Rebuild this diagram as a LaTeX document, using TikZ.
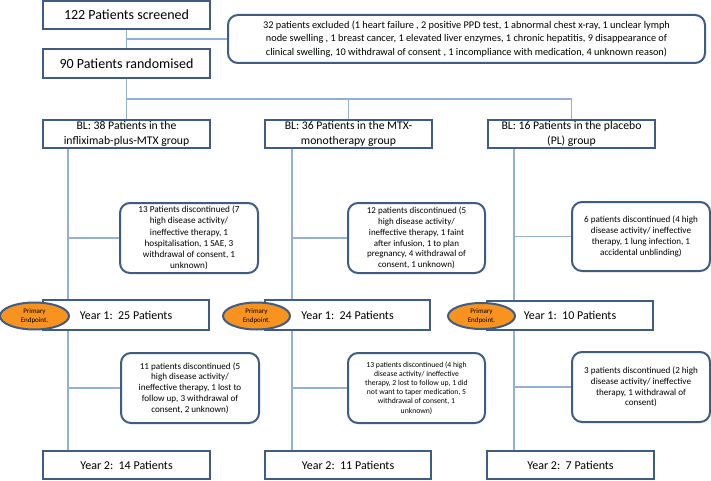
\documentclass[tikz,border=0pt]{standalone}
\usepackage{fontspec}
\setmainfont{Carlito}
\usetikzlibrary{shapes.geometric,backgrounds}
\definecolor{boxline}{HTML}{3E5C84}
\definecolor{conn}{HTML}{93B1D6}
\definecolor{endp}{HTML}{F7931E}
\tikzset{
  sqbox/.style={draw=boxline, line width=2.1pt, fill=white, rectangle, align=center, inner sep=1pt},
  rbox/.style={draw=boxline, line width=2pt, fill=white, rectangle, rounded corners=10pt, align=center, inner sep=1pt},
  conline/.style={draw=conn, line width=1.5pt},
  endpt/.style={draw=boxline, line width=2pt, fill=endp, ellipse, align=center, inner sep=0pt, font=\fontsize{7}{9}\selectfont},
}
\begin{document}
\begin{tikzpicture}[x=1pt,y=-1pt]
\useasboundingbox (0,0) rectangle (711,481);
% top
\node[sqbox, minimum width=167pt, minimum height=28pt, font=\fontsize{14}{16}\selectfont] (scr) at (126.5,15) {122 Patients screened};
\node[sqbox, minimum width=167pt, minimum height=29pt, font=\fontsize{14}{16}\selectfont] (rand) at (126.5,63.5) {90 Patients randomised};
\node[rbox, minimum width=477pt, minimum height=48pt, font=\fontsize{10.3}{13.3}\selectfont] (excl) at (466.5,39) {32 patients excluded (1 heart failure , 2 positive PPD test, 1 abnormal chest x-ray, 1 unclear lymph\\ node swelling , 1 breast cancer, 1 elevated liver enzymes, 1 chronic hepatitis, 9 disappearance of\\ clinical swelling, 10 withdrawal of consent , 1 incompliance with medication, 4 unknown reason)};
% baseline groups
\node[sqbox, minimum width=167pt, minimum height=28pt, font=\fontsize{11.7}{14.5}\selectfont] (bla) at (126.5,134) {BL: 38 Patients in the\\ infliximab-plus-MTX group};
\node[sqbox, minimum width=167pt, minimum height=28pt, font=\fontsize{11.7}{14.5}\selectfont] (blb) at (348.5,134) {BL: 36 Patients in the MTX-\\ monotherapy group};
\node[sqbox, minimum width=167pt, minimum height=28pt, font=\fontsize{11.7}{14.5}\selectfont] (blc) at (571.5,134) {BL: 16 Patients in the placebo\\ (PL) group};
% discontinued year 1
\node[rbox, minimum width=138pt, minimum height=70pt, font=\fontsize{9.2}{11.3}\selectfont] (da) at (189,238) {13 Patients discontinued (7\\ high disease activity/\\ ineffective therapy, 1\\ hospitalisation, 1 SAE, 3\\ withdrawal of consent, 1\\ unknown)};
\node[rbox, minimum width=137pt, minimum height=70pt, font=\fontsize{9}{10.7}\selectfont] (db) at (416.5,238) {12 patients discontinued (5\\ high disease activity/\\ ineffective therapy, 1 faint\\ after infusion, 1 to plan\\ pregnancy, 4 withdrawal of\\ consent, 1 unknown)};
\node[rbox, minimum width=138pt, minimum height=69pt, font=\fontsize{9.1}{10.8}\selectfont] (dc) at (641,236.5) {6 patients discontinued (4 high\\ disease activity/ ineffective\\ therapy, 1 lung infection, 1\\ accidental unblinding)};
% year 1
\node[sqbox, minimum width=166pt, minimum height=30pt, font=\fontsize{12}{14}\selectfont] (ya) at (126,315) {Year 1:\ \ 25 Patients};
\node[sqbox, minimum width=165pt, minimum height=30pt, font=\fontsize{12}{14}\selectfont] (yb) at (347.5,315) {Year 1:\ \ 24 Patients};
\node[sqbox, minimum width=166pt, minimum height=29pt, font=\fontsize{12}{14}\selectfont] (yc) at (570,315.5) {Year 1:\ \ 10 Patients};
\node[endpt, minimum width=69pt, minimum height=27pt] (ea) at (34.5,316) {Primary\\ Endpoint.};
\node[endpt, minimum width=67pt, minimum height=27pt] (eb) at (256.5,316) {Primary\\ Endpoint.};
\node[endpt, minimum width=67pt, minimum height=26pt] (ec) at (481.5,316) {Primary\\ Endpoint.};
% discontinued year 2
\node[rbox, minimum width=138pt, minimum height=70pt, font=\fontsize{9.1}{10.7}\selectfont] (dd) at (190,388) {11 patients discontinued (5\\ high disease activity/\\ ineffective therapy, 1 lost to\\ follow up, 3 withdrawal of\\ consent, 2 unknown)};
\node[rbox, minimum width=137pt, minimum height=70pt, font=\fontsize{7.7}{9.1}\selectfont] (de) at (416.5,388) {13 patients discontinued (4 high\\ disease activity/ ineffective\\ therapy, 2 lost to follow up, 1 did\\ not want to taper medication, 5\\ withdrawal of consent, 1\\ unknown)};
\node[rbox, minimum width=138pt, minimum height=70pt, font=\fontsize{9.1}{10.8}\selectfont] (df) at (641,387) {3 patients discontinued (2 high\\ disease activity/ ineffective\\ therapy, 1 withdrawal of\\ consent)};
% year 2
\node[sqbox, minimum width=167pt, minimum height=28pt, font=\fontsize{12}{14}\selectfont] (za) at (126.5,465) {Year 2:\ \ 14 Patients};
\node[sqbox, minimum width=166pt, minimum height=28pt, font=\fontsize{12}{14}\selectfont] (zb) at (348,465) {Year 2:\ \ 11 Patients};
\node[sqbox, minimum width=167pt, minimum height=28pt, font=\fontsize{12}{14}\selectfont] (zc) at (570.5,465) {Year 2:\ \ 7 Patients};
% connectors
\coordinate (j0) at (126.5,39);
\coordinate (j1) at (126.5,99);
\coordinate (ta) at (68,148);
\coordinate (tb) at (292,148);
\coordinate (tc) at (514,148);
\begin{scope}[on background layer]
\draw[conline] (scr) -- (rand);
\draw[conline] (j0) -- (excl.west);
\draw[conline] (rand) -- (bla);
\draw[conline] (j1) -| (blb.north);
\draw[conline] (j1) -| (blc.north);
\draw[conline] (ta) -- (ta |- ya.north);
\draw[conline] (tb) -- (tb |- yb.north);
\draw[conline] (tc) -- (tc |- yc.north);
\draw[conline] (ta |- da.west) -- (da.west);
\draw[conline] (tb |- db.west) -- (db.west);
\draw[conline] (tc |- dc.west) -- (dc.west);
\draw[conline] (ta |- ya.south) -- (ta |- za.north);
\draw[conline] (tb |- yb.south) -- (tb |- zb.north);
\draw[conline] (tc |- yc.south) -- (tc |- zc.north);
\draw[conline] (ta |- dd.west) -- (dd.west);
\draw[conline] (tb |- de.west) -- (de.west);
\draw[conline] (tc |- df.west) -- (df.west);
\end{scope}
\end{tikzpicture}
\end{document}
